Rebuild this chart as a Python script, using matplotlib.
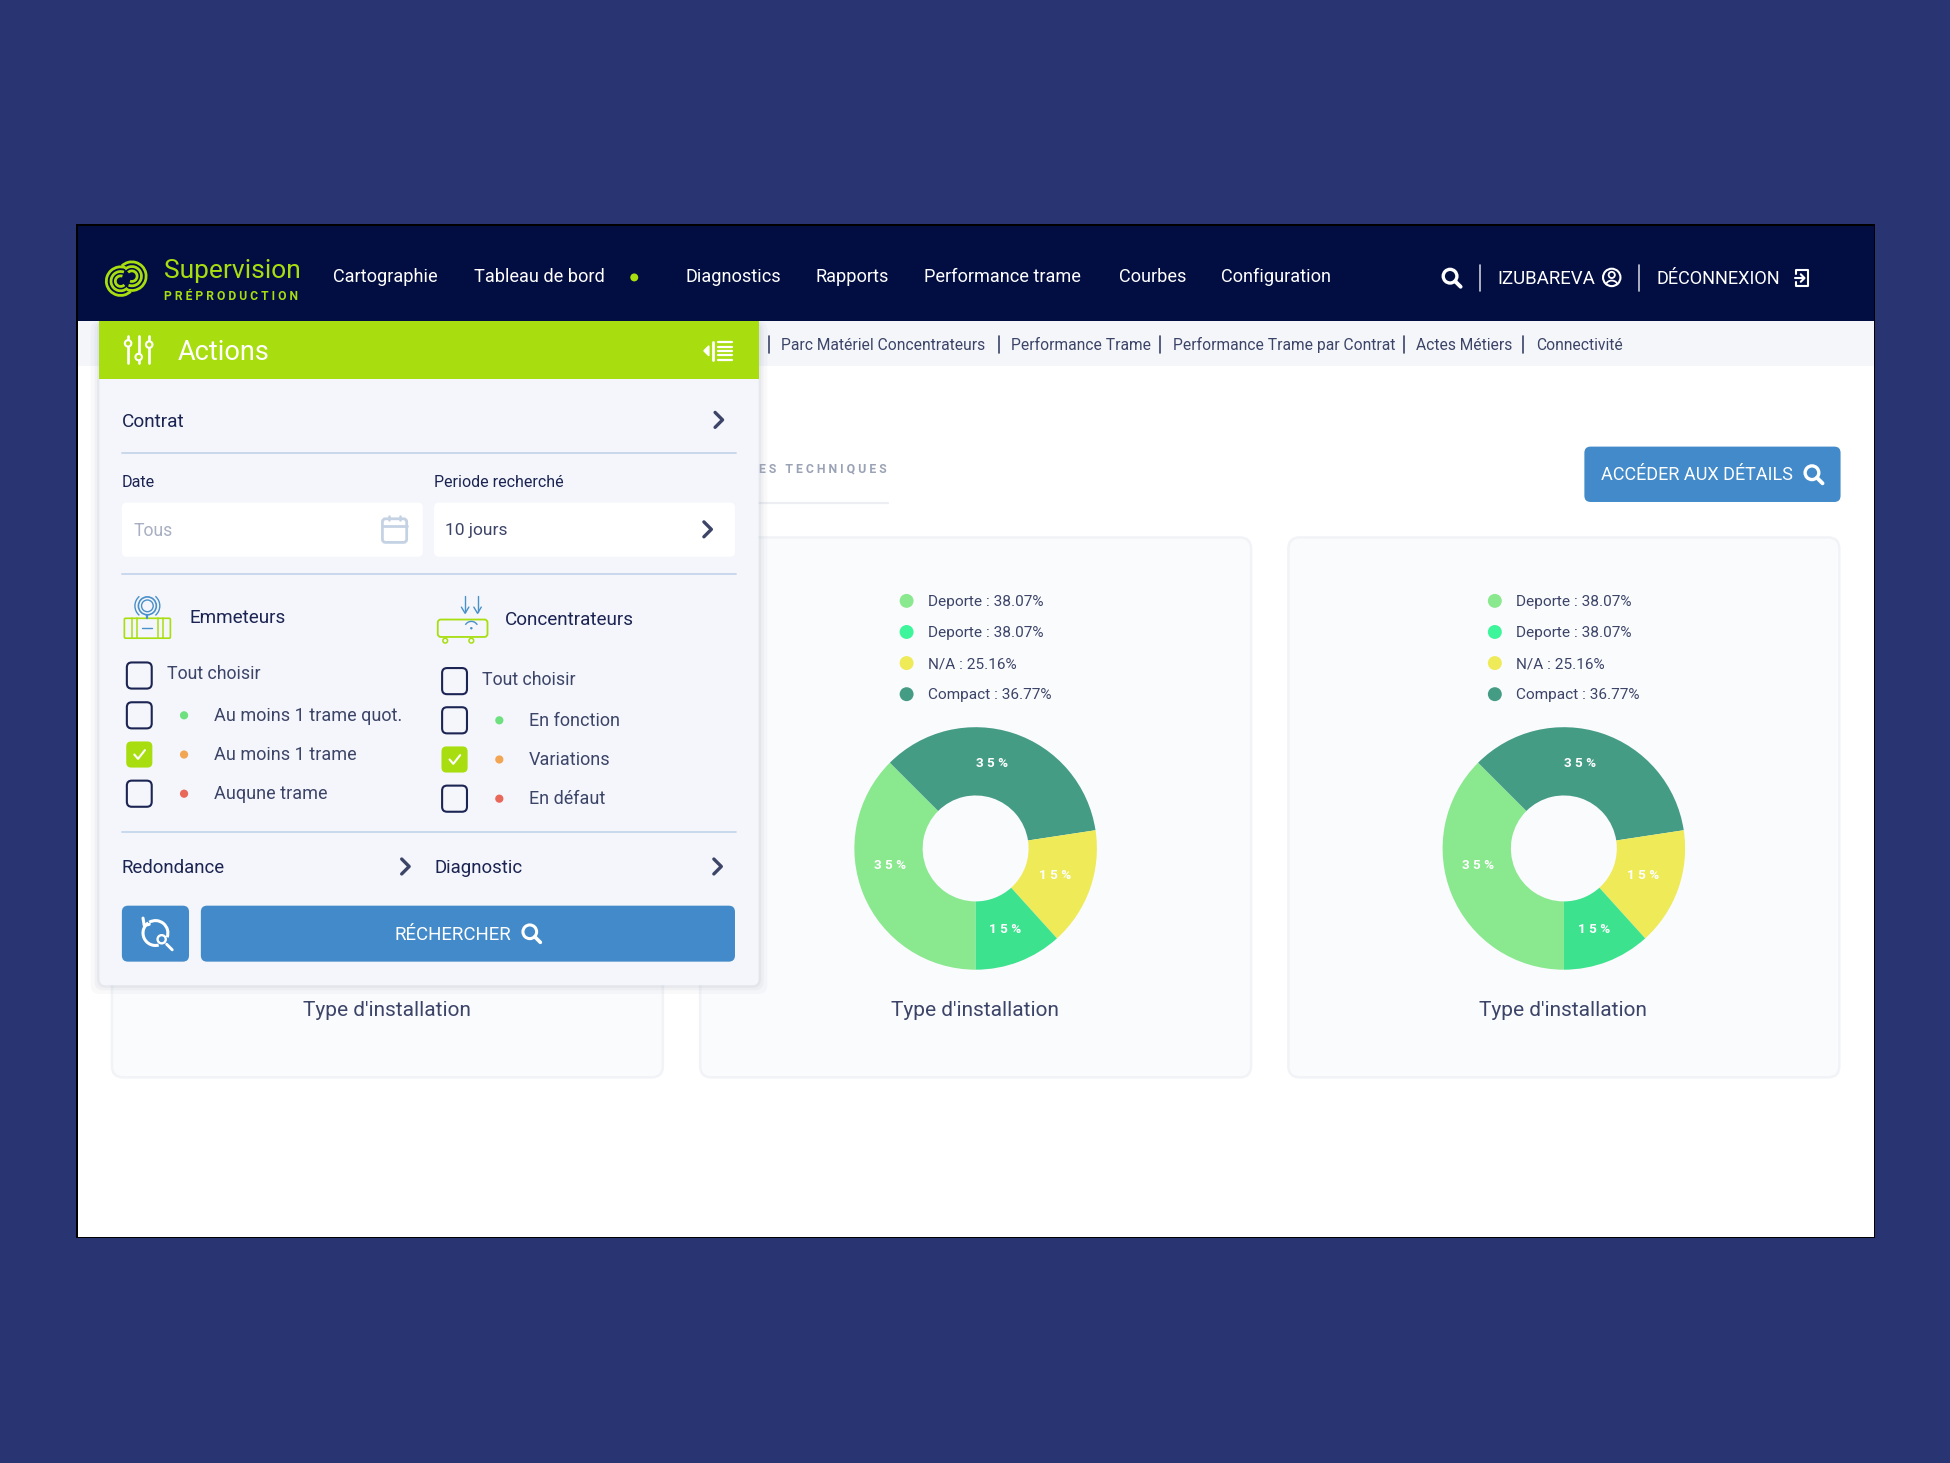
import numpy as np
import matplotlib
matplotlib.use("Agg")
import matplotlib.pyplot as plt
from matplotlib.patches import FancyBboxPatch, Rectangle, Circle, Arc

plt.rcParams['font.family'] = ['Roboto', 'DejaVu Sans']

# data
slice_names = ['Deporte', 'Compact', 'N/A', 'Deporte 2']
slice_share = [37.5, 35.1, 15.7, 11.7]
slice_labels = ['3 5 %', '3 5 %', '1 5 %', '1 5 %']
slice_colors = ['#8ae88f', '#459c85', '#eeea58', '#3de28e']

legend_texts = ['Deporte : 38.07%', 'Deporte : 38.07%', 'N/A : 25.16%', 'Compact : 36.77%']
legend_colors = ['#8ae88f', '#3df59a', '#eeea58', '#459c85']

nav_labels = ['Cartographie', 'Tableau de bord', 'Diagnostics', 'Rapports',
              'Performance trame', 'Courbes', 'Configuration']
nav_x = [268, 381, 551, 656, 743, 900, 982]

sub_labels = ['Parc Matériel Concentrateurs', 'Performance Trame',
              'Performance Trame par Contrat', 'Actes Métiers', 'Connectivité']
sub_x = [628, 813, 943, 1139, 1235]
sub_sep = [618, 803, 933, 1129, 1225]

left_rows = ['Au moins 1 trame quot.', 'Au moins 1 trame', 'Auqune trame']
right_rows = ['En fonction', 'Variations', 'En défaut']
row_dots = ['#6fe07f', '#f2a654', '#e8685a']

NAVY = '#020d42'
LIME = '#a8de10'
BLUE = '#428ac9'
DARK = '#1b2452'
GREY = '#3c4468'
LINE = '#c6d5ea'

W, H = 1568.0, 1176.0
fig = plt.figure(figsize=(19.5, 14.63), dpi=100, facecolor='#293472')
ax = fig.add_axes([0, 0, 1, 1])
ax.set_xlim(0, W)
ax.set_ylim(H, 0)
ax.axis('off')


def rect(x0, y0, x1, y1, color, z=1, ec='none', lw=0):
    ax.add_patch(Rectangle((x0, y0), x1 - x0, y1 - y0, fc=color, ec=ec, lw=lw, zorder=z))


def rbox(x0, y0, x1, y1, color, r=4, z=1, ec='none', lw=0, alpha=None):
    ax.add_patch(FancyBboxPatch((x0 + r, y0 + r), x1 - x0 - 2 * r, y1 - y0 - 2 * r,
                                boxstyle='round,pad=%f,rounding_size=%f' % (r, r),
                                fc=color, ec=ec, lw=lw, zorder=z, alpha=alpha))


def label(x, y, s, size=14, color=DARK, ha='left', weight='normal', z=6):
    ax.text(x, y + 1, s, fontsize=size, color=color, ha=ha, va='center', weight=weight, zorder=z)


def seg(xs, ys, color, lw=1.5, z=6):
    ax.plot(xs, ys, color=color, lw=lw, zorder=z, solid_capstyle='round', solid_joinstyle='round')


def chevron(x, y, color=GREY):
    seg([x - 3, x + 3, x - 3], [y - 6, y, y + 6], color, lw=2.4)


def search(x, y, color='white', r=5.5, lw=2.2):
    ax.add_patch(Circle((x - 1, y - 1), r, fc='none', ec=color, lw=lw, zorder=6))
    seg([x + 3, x + 7.5], [y + 3, y + 7.5], color, lw=lw + .4)


def arc(x, y, d, t0, t1, color, lw=1.5):
    # y axis is flipped, so theta runs clockwise on screen
    ax.add_patch(Arc((x, y), d, d, theta1=t0, theta2=t1, ec=color, lw=lw, zorder=6))


# screen
rect(61, 180, 1508, 995, 'black', z=0)
rect(63, 182, 1507, 994, 'white', z=0.5)
rect(63, 182, 1507, 258, NAVY)
rect(63, 258, 1507, 294, '#f4f6fa')

# header
for d in [23, 15.5, 8.5]:
    arc(97, 226, d, 45, 290, LIME, lw=2)
    arc(106, 222, d, 225, 470, LIME, lw=2)
label(132, 217, 'Supervision', 19, LIME)
label(132, 237, 'P R É P R O D U C T I O N', 8.7, LIME, weight='bold')
for x, s in zip(nav_x, nav_labels):
    label(x, 221.5, s, 13.1, 'white')
ax.add_patch(Circle((510, 223), 3.2, fc=LIME, ec='none', zorder=6))
search(1167, 223, lw=2.4)
seg([1190, 1190], [213, 234], '#c8ccd8', lw=1.2)
label(1204, 223.5, 'IZUBAREVA', 13.4, 'white')
ax.add_patch(Circle((1296, 223), 7, fc='none', ec='white', lw=1.5, zorder=6))
ax.add_patch(Circle((1296, 221), 2.5, fc='none', ec='white', lw=1.3, zorder=6))
ax.add_patch(Arc((1296, 229), 9, 7, theta1=180, theta2=360, ec='white', lw=1.3, zorder=6))
seg([1318, 1318], [213, 234], '#c8ccd8', lw=1.2)
label(1332, 223.5, 'DÉCONNEXION', 13.1, 'white')
seg([1444, 1444, 1454, 1454, 1444, 1444], [220, 217, 217, 230, 230, 227], 'white', lw=1.5)
seg([1443, 1451], [223.5, 223.5], 'white', lw=1.5)
seg([1448, 1451, 1448], [220.5, 223.5, 226.5], 'white', lw=1.5)

# sub nav
for x, s in zip(sub_x, sub_labels):
    label(x, 276.5, s, 11.25, GREY)
for x in sub_sep:
    seg([x, x], [270, 284], GREY, lw=1.2)

# tab + details button
label(610, 376, 'E S   T E C H N I Q U E S', 8.8, '#9aa2b5', weight='bold')
seg([605, 714], [404, 404], '#eceef3', lw=1.6, z=2)
rbox(1274, 359, 1480, 403.5, BLUE, r=5, z=2)
label(1287, 381, 'ACCÉDER AUX DÉTAILS', 13, 'white')
search(1458, 381, lw=2.4)

# cards
for x0, x1 in [(90, 533), (563, 1006), (1036, 1479)]:
    rbox(x0, 432, x1, 866, '#fafbfd', r=9, z=1, ec='#f1f3f6', lw=1.8)
    label((x0 + x1) / 2 - .5, 811.5, "Type d'installation", 15, GREY, ha='center', z=2)

# donuts
pie_centers = [784.5, 1257.5]
pie_y = 682
pie_R = 97.5
pie_r = 42.6
label_offsets = [(-69, 14), (13, -68), (64, 22), (24, 65)]
for cx in pie_centers:
    pax = fig.add_axes([(cx - pie_R) / W, 1 - (pie_y + pie_R) / H, 2 * pie_R / W, 2 * pie_R / H])
    pax.pie(slice_share, colors=slice_colors, startangle=270, counterclock=False, radius=1,
            wedgeprops=dict(width=1 - pie_r / pie_R, linewidth=0))
    pax.set_xlim(-1, 1)
    pax.set_ylim(-1, 1)
    pax.patch.set_alpha(0)
    for s, (dx, dy) in zip(slice_labels, label_offsets):
        pax.text(dx / pie_R, -dy / pie_R, s, color='white', fontsize=9.7, weight='bold',
                 ha='center', va='center')
    for i, (s, c) in enumerate(zip(legend_texts, legend_colors)):
        y = 483 + 25 * i
        ax.add_patch(Circle((cx - 55.5, y), 5.6, fc=c, ec='none', zorder=3))
        label(cx - 38.5, y, s, 11.1, GREY, z=3)

# panel
for grow, a in [(7, .05), (4, .07), (2, .09)]:
    rbox(80 - grow, 258, 610 + grow, 792 + grow, '#8a93ad', r=7, z=3, alpha=a)
rbox(80, 262, 610, 792, '#f4f6fb', r=5, z=3.5)
rect(80, 258, 610, 305, LIME, z=4)
for x, yk in [(103, 276), (111.5, 287), (120, 277)]:
    seg([x, x], [270, 292], 'white', lw=1.9)
    ax.add_patch(Circle((x, yk), 2.6, fc=LIME, ec='white', lw=1.5, zorder=7))
label(143, 282, 'Actions', 19.5, 'white')
for y in [275, 279, 282, 285.5, 289]:
    seg([577, 589], [y, y], 'white', lw=1.6)
ax.fill([566, 570, 570], [282, 278, 286], color='white', zorder=6)
seg([573, 573], [275, 289], 'white', lw=2)

label(98, 338, 'Contrat', 13.7, DARK)
chevron(578, 337.5)
seg([98, 592], [364, 364], LINE, lw=1.3)
label(98, 386.5, 'Date', 11.6, DARK)
label(349, 386.5, 'Periode recherché', 11.5, DARK)
rbox(98, 404, 340, 447.5, 'white', r=4, z=4)
rbox(349, 404, 591, 447.5, 'white', r=4, z=4)
label(107, 425.5, 'Tous', 12.7, '#a8afc2')
rbox(307.5, 417, 327, 436, 'white', r=2.5, z=5, ec='#c5d2e4', lw=2)
seg([308, 327], [422.5, 422.5], '#c5d2e4', lw=2)
seg([312.5, 312.5], [414.5, 418], '#c5d2e4', lw=1.8)
seg([322, 322], [414.5, 418], '#c5d2e4', lw=1.8)
label(358, 425.5, '10 jours', 12.5, GREY)
chevron(569, 425.5)
seg([98, 592], [461, 461], LINE, lw=1.3)

# emitter icon
rbox(100, 497, 137, 513, 'none', r=1, z=6, ec=LIME, lw=1.2)
for x in [106, 110, 127, 131]:
    seg([x, x], [497, 513], LIME, lw=1.1)
seg([114, 122], [505, 505], '#4a90c9', lw=1)
ax.add_patch(Circle((118.5, 487), 7.2, fc='none', ec='#4a90c9', lw=1.2, zorder=6))
ax.add_patch(Circle((118.5, 487), 4.7, fc='none', ec='#4a90c9', lw=1, zorder=6))
seg([118.5, 118.5], [494, 497], '#4a90c9', lw=1.6)
arc(118.5, 487, 20, 130, 230, '#4a90c9', lw=1)
arc(118.5, 487, 20, -50, 50, '#4a90c9', lw=1)
label(152, 495.5, 'Emmeteurs', 13.6, DARK)

# concentrator icon
rbox(352, 498, 392, 512, 'none', r=2.5, z=6, ec=LIME, lw=1.3)
ax.add_patch(Circle((358, 515), 1.9, fc='none', ec=LIME, lw=1.1, zorder=6))
ax.add_patch(Circle((379, 515), 1.9, fc='none', ec=LIME, lw=1.1, zorder=6))
for x in [374, 384]:
    seg([x, x], [479, 492], '#4a90c9', lw=1)
    seg([x - 3, x, x + 3], [488, 493, 488], '#4a90c9', lw=1)
arc(379, 505, 11, 210, 330, '#4a90c9', lw=1)
ax.add_patch(Circle((379, 505), 1, fc='#4a90c9', ec='none', zorder=6))
label(406, 497.5, 'Concentrateurs', 13.6, DARK)


def checkbox(x, y, checked=False):
    if checked:
        rbox(x - 10.5, y - 10.5, x + 10.5, y + 10.5, LIME, r=4, z=5)
        seg([x - 4, x - 1, x + 4.5], [y, y + 3.5, y - 3.5], 'white', lw=1.5)
    else:
        rbox(x - 10, y - 10.5, x + 10, y + 10.5, 'none', r=4, z=5, ec=DARK, lw=1.5)


def check_column(xbox, ytop, ys, rows, ytxt):
    checkbox(xbox, ytop)
    label(xbox + 22, ytxt, 'Tout choisir', 12.8, GREY)
    for i, (y, s, c) in enumerate(zip(ys, rows, row_dots)):
        checkbox(xbox, y, checked=(i == 1))
        ax.add_patch(Circle((xbox + 36, y), 3.3, fc=c, ec='none', zorder=6))
        label(xbox + 60, y - .5, s, 13, GREY)


check_column(112, 543, [575, 606.5, 638], left_rows, 540.5)
check_column(365.5, 547.5, [579, 610.5, 642], right_rows, 545.5)

seg([98, 592], [668.5, 668.5], LINE, lw=1.3)
label(98, 696.5, 'Redondance', 13.4, DARK)
chevron(326, 696.5)
label(349, 696.5, 'Diagnostic', 13.4, DARK)
chevron(577, 696.5)

rbox(98, 728, 152, 773, BLUE, r=5, z=4)
rbox(161.5, 728, 591, 773, BLUE, r=5, z=4)
arc(125, 750, 20, -120, 20, 'white', lw=2.2)
arc(125, 750, 20, 75, 235, 'white', lw=2.2)
seg([115, 116, 120], [738, 744, 743], 'white', lw=2.2)
search(131, 756, r=3.3, lw=1.7)
label(364, 750.5, 'RÉCHERCHER', 13.5, 'white', ha='center')
search(427, 750, lw=2.2)

fig.savefig('out.png', dpi=100, facecolor=fig.get_facecolor())
